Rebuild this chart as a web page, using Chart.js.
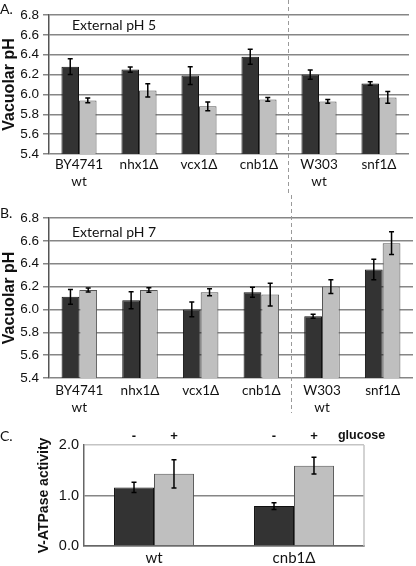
<!DOCTYPE html>
<html>
<head>
<meta charset="utf-8">
<script src="https://cdn.jsdelivr.net/npm/chart.js@4.4.1/dist/chart.umd.min.js"></script>
<style>
    body { margin: 0; background: #fff; width: 416px; height: 566px; position: relative; overflow: hidden; font-family: Lato, sans-serif; color: #111; }
    canvas { position: absolute; left: 0; }
    .tag { position: absolute; font-size: 14px; line-height: 14px; }
    .note { position: absolute; font-size: 14px; line-height: 14px; }
</style>
</head>
<body>
<canvas id="chartA" width="416" height="195" style="top:0"></canvas>
<canvas id="chartB" width="416" height="222" style="top:195px"></canvas>
<canvas id="chartC" width="416" height="149" style="top:417px"></canvas>

<div class="tag" style="left:0;top:2px">A.</div>
<div class="tag" style="left:0;top:206px">B.</div>
<div class="tag" style="left:0;top:429px">C.</div>
<div class="note" style="left:72px;top:18px">External pH 5</div>
<div class="note" style="left:72px;top:225px">External pH 7</div>

<script>
// Panels A and B: vacuolar pH per strain
const strains = [['BY4741', 'wt'], 'nhx1Δ', 'vcx1Δ', 'cnb1Δ', ['W303', 'wt'], 'snf1Δ'];
const pHTicks = [5.4, 5.6, 5.8, 6.0, 6.2, 6.4, 6.6, 6.8];

const ph5Dark = [6.28, 6.25, 6.19, 6.38, 6.20, 6.11];
const ph5DarkErr = [0.08, 0.027, 0.09, 0.075, 0.047, 0.018];
const ph5Light = [5.94, 6.04, 5.88, 5.95, 5.93, 5.97];
const ph5LightErr = [0.025, 0.067, 0.045, 0.018, 0.02, 0.06];

const ph7Dark = [6.11, 6.08, 6.00, 6.15, 5.94, 6.35];
const ph7DarkErr = [0.065, 0.074, 0.064, 0.044, 0.017, 0.09];
const ph7Light = [6.17, 6.17, 6.15, 6.13, 6.20, 6.58];
const ph7LightErr = [0.017, 0.019, 0.03, 0.1, 0.06, 0.1];

// Panel C: V-ATPase activity
const atpCats = ['wt', 'cnb1Δ'];
const glucoseMarks = ['-', '+'];
const atpMinus = [1.16, 0.79];
const atpMinusErr = [0.1, 0.066];
const atpPlus = [1.43, 1.59];
const atpPlusErr = [0.28, 0.165];
const atpTicks = [0, 1, 2];

const DARK = '#333333';
const LIGHT = '#bfbfbf';
const GRID = '#868686';

// Draw error bars from the dataset's "errors" list
const errorBars = {
    id: 'errorBars',
    afterDatasetsDraw(chart) {
        const ctx = chart.ctx;
        const y = chart.scales.y;
        chart.data.datasets.forEach((ds, i) => {
            chart.getDatasetMeta(i).data.forEach((bar, j) => {
                const v = ds.data[j];
                const e = ds.errors[j];
                const top = y.getPixelForValue(v + e);
                const bot = y.getPixelForValue(v - e);
                ctx.save();
                ctx.strokeStyle = '#000';
                ctx.lineWidth = 1.5;
                ctx.beginPath();
                ctx.moveTo(bar.x, top); ctx.lineTo(bar.x, bot);
                ctx.moveTo(bar.x - 2.5, top); ctx.lineTo(bar.x + 2.5, top);
                ctx.moveTo(bar.x - 2.5, bot); ctx.lineTo(bar.x + 2.5, bot);
                ctx.stroke();
                ctx.restore();
            });
        });
    }
};

// Dashed separator between the BY4741 and W303 strain groups
const divider = {
    id: 'divider',
    afterDraw(chart, args, opts) {
        const x = chart.scales.x;
        const px = (x.getPixelForValue(opts.after) + x.getPixelForValue(opts.after + 1)) / 2 - 1;
        const ctx = chart.ctx;
        ctx.save();
        ctx.strokeStyle = '#9a9a9a';
        ctx.lineWidth = 1;
        ctx.setLineDash([4, 3]);
        ctx.beginPath();
        ctx.moveTo(Math.round(px) + 0.5, 0);
        ctx.lineTo(Math.round(px) + 0.5, chart.height - opts.cut);
        ctx.stroke();
        ctx.restore();
    }
};

function pHChart(id, dark, darkErr, light, lightErr, pad, xHeight, cut) {
    const ctx = document.getElementById(id).getContext('2d');
    return new Chart(ctx, {
        type: 'bar',
        data: {
            labels: strains,
            datasets: [
                { label: 'dark', data: dark, errors: darkErr, backgroundColor: DARK, borderColor: '#111', borderWidth: 1 },
                { label: 'light', data: light, errors: lightErr, backgroundColor: LIGHT, borderColor: '#555', borderWidth: 1 }
            ]
        },
        options: {
            responsive: false,
            animation: false,
            events: [],
            layout: { padding: pad },
            datasets: { bar: { categoryPercentage: 0.585, barPercentage: 1 } },
            plugins: {
                legend: { display: false },
                tooltip: { enabled: false },
                divider: { after: 3, cut: cut }
            },
            scales: {
                x: {
                    grid: { display: false, drawTicks: false },
                    border: { display: false },
                    ticks: { color: '#111', padding: pad.tickPad, font: { family: 'Lato', size: 13.5 } },
                    afterFit: s => { s.height = xHeight; }
                },
                y: {
                    min: 5.4,
                    max: 6.8,
                    afterBuildTicks: s => { s.ticks = pHTicks.map(v => ({ value: v })); },
                    grid: { color: GRID, lineWidth: 1.5, tickLength: 6 },
                    border: { color: '#555', width: 1.5 },
                    ticks: { color: '#111', padding: 4, font: { family: 'Liberation Sans', size: 13.5 }, callback: v => v.toFixed(1) },
                    title: { display: true, text: 'Vacuolar pH', padding: 0, color: '#111', font: { family: 'Liberation Sans', size: 16, weight: 'bold' } },
                    afterFit: s => { s.width = 49; }
                }
            }
        },
        plugins: [errorBars, divider]
    });
}

// Panel C extras: right frame edge and the glucose -/+ header
const glucoseHeader = {
    id: 'glucoseHeader',
    afterDraw(chart) {
        const ctx = chart.ctx;
        const area = chart.chartArea;
        ctx.save();
        ctx.strokeStyle = '#c4c4c4';
        ctx.lineWidth = 1.5;
        ctx.beginPath();
        ctx.moveTo(area.right, area.top);
        ctx.lineTo(area.right, area.bottom);
        ctx.stroke();

        ctx.fillStyle = '#111';
        ctx.font = 'bold 13px "Liberation Sans"';
        ctx.textAlign = 'center';
        ctx.textBaseline = 'middle';
        let lastX = 0;
        chart.data.datasets.forEach((ds, i) => {
            chart.getDatasetMeta(i).data.forEach(bar => {
                ctx.fillText(glucoseMarks[i], bar.x, 19);
                lastX = Math.max(lastX, bar.x);
            });
        });
        ctx.textAlign = 'left';
        ctx.font = 'bold 12.5px "Liberation Sans"';
        ctx.fillText('glucose', lastX + 24, 19);
        ctx.restore();
    }
};

document.addEventListener('DOMContentLoaded', () => {
    const xPadA = { top: 15, right: 7, left: 0, bottom: 0, tickPad: 3 };
    pHChart('chartA', ph5Dark, ph5DarkErr, ph5Light, ph5LightErr, xPadA, 41, 0);
    const xPadB = { top: 23, right: 3, left: 0, bottom: 0, tickPad: 5 };
    pHChart('chartB', ph7Dark, ph7DarkErr, ph7Light, ph7LightErr, xPadB, 39, 4);

    const ctxC = document.getElementById('chartC').getContext('2d');
    new Chart(ctxC, {
        type: 'bar',
        data: {
            labels: atpCats,
            datasets: [
                { label: '- glucose', data: atpMinus, errors: atpMinusErr, backgroundColor: DARK, borderColor: '#111', borderWidth: 1 },
                { label: '+ glucose', data: atpPlus, errors: atpPlusErr, backgroundColor: LIGHT, borderColor: '#555', borderWidth: 1 }
            ]
        },
        options: {
            responsive: false,
            animation: false,
            events: [],
            layout: { padding: { top: 28, right: 52, left: 0, bottom: 0 } },
            datasets: { bar: { categoryPercentage: 0.571, barPercentage: 1 } },
            plugins: { legend: { display: false }, tooltip: { enabled: false } },
            scales: {
                x: {
                    grid: { display: false, drawTicks: false },
                    border: { color: '#666', width: 1.5 },
                    ticks: { color: '#111', padding: 3, font: { family: 'Lato', size: 15 } },
                    afterFit: s => { s.height = 20; }
                },
                y: {
                    min: 0,
                    max: 2,
                    afterBuildTicks: s => { s.ticks = atpTicks.map(v => ({ value: v })); },
                    grid: { color: c => c.tick && c.tick.value === 2 ? '#c4c4c4' : GRID, lineWidth: 1.5, drawTicks: false },
                    border: { color: '#666', width: 1.5 },
                    ticks: { color: '#111', padding: 5, font: { family: 'Liberation Sans', size: 14.5 }, callback: v => v.toFixed(1) },
                    title: { display: true, text: 'V-ATPase activity', padding: { top: 36, bottom: 0 }, color: '#111', font: { family: 'Liberation Sans', size: 14, weight: 'bold' } },
                    afterFit: s => { s.width = 84; }
                }
            }
        },
        plugins: [errorBars, glucoseHeader]
    });
});
</script>
</body>
</html>
